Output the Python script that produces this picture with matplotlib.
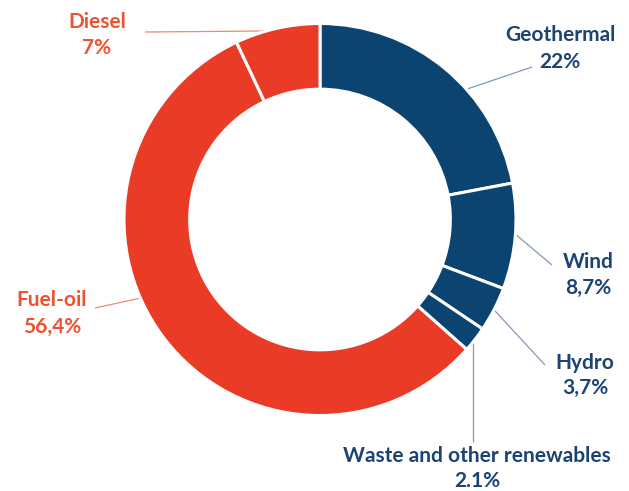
import numpy as np
import matplotlib.pyplot as plt

# %% Data
labels = ["Geothermal", "Wind", "Hydro", "Waste and other renewables", "Fuel-oil", "Diesel"]
values = [22.0, 8.7, 3.7, 2.1, 56.4, 7.0]
value_text = ["22%", "8,7%", "3,7%", "2.1%", "56,4%", "7%"]

BLUE = "#0b4471"
RED = "#e93b25"
BLUE_TXT = "#1b4474"
RED_TXT = "#f0512f"
BLUE_LINE = "#8497c0"
RED_LINE = "#f2886f"
wedge_colors = [BLUE, BLUE, BLUE, BLUE, RED, RED]
text_colors = [BLUE_TXT, BLUE_TXT, BLUE_TXT, BLUE_TXT, RED_TXT, RED_TXT]
line_colors = [BLUE_LINE, BLUE_LINE, BLUE_LINE, BLUE_LINE, RED_LINE, RED_LINE]

# %% Layout (pixels in a 629x491 canvas)
W, H = 629, 491
CX, CY, R = 320, 219.5, 196
# where along each wedge the leader touches the rim (0 = start, 1 = end)
leader_frac = [0.61, 0.48, 0.51, 0.63, 0.565, 0.37]
# outer end of each leader
leader_end = [(532, 67), (552, 265), (545, 365), (None, 442), (95, 308), (145, 32)]
# label text centres (name line, value line)
label_pos = [(560, 35, 62), (588, 262, 288), (585, 363, 388),
             (477, 456, 481), (52, 300, 327), (97, 22, 48)]


def px(x, y):
    return (x - CX) / R, (CY - y) / R


fig = plt.figure(figsize=(W / 100, H / 100), dpi=100)
ax = fig.add_axes([0, 0, 1, 1])

wedges, _ = ax.pie(
    values, colors=wedge_colors, startangle=90, counterclock=False,
    radius=1.0, wedgeprops=dict(width=0.335, edgecolor="white", linewidth=2.2),
)
# pie() resets the limits, so set them afterwards
ax.set_xlim(-CX / R, (W - CX) / R)
ax.set_ylim(-(H - CY) / R, CY / R)
ax.set_aspect("equal")
ax.axis("off")

font = dict(family=["Lato", "DejaVu Sans"], fontsize=15, fontweight="bold")

for i, w in enumerate(wedges):
    # wedge angles run theta1 -> theta2 counterclockwise; clockwise start is theta2
    a = np.deg2rad(w.theta2 - leader_frac[i] * (w.theta2 - w.theta1))
    x0, y0 = np.cos(a), np.sin(a)
    ex, ey = leader_end[i]
    if ex is None:
        x1, y1 = x0, px(0, ey)[1]
    else:
        x1, y1 = px(ex, ey)
    ax.plot([x0, x1], [y0, y1], color=line_colors[i], lw=0.9, solid_capstyle="butt", zorder=0)

    tx, ty1, ty2 = label_pos[i]
    ax.text(*px(tx, ty1), labels[i], ha="center", va="center", color=text_colors[i], **font)
    ax.text(*px(tx, ty2), value_text[i], ha="center", va="center", color=text_colors[i], **font)

fig.savefig("out.png", dpi=100, facecolor="white")
